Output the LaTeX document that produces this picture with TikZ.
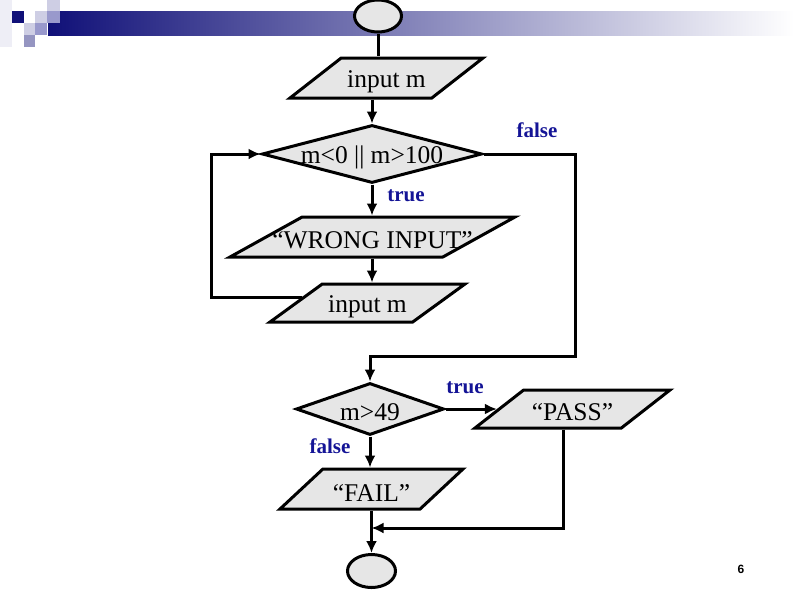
\documentclass[tikz,border=0pt]{standalone}
\usepackage{fontspec}
\setmainfont{Liberation Serif}
\setsansfont{Liberation Sans}
\usetikzlibrary{shapes.geometric,arrows.meta,calc}

\definecolor{boxgray}{RGB}{230,230,230}
\definecolor{labelblue}{RGB}{20,20,150}
\definecolor{navy}{RGB}{16,16,120}
\definecolor{lav}{RGB}{153,153,204}
\definecolor{lavlight}{RGB}{206,206,228}
\definecolor{lavpale}{RGB}{238,238,246}
\definecolor{barmid}{RGB}{178,178,206}

\newcommand{\chartfont}{\fontsize{25.5}{30}\selectfont}

\begin{document}
\begin{tikzpicture}[x=1pt, y=-1pt,
    box/.style={draw, line width=3pt, fill=boxgray, inner sep=0pt},
    term/.style={box, ellipse},
    io/.style 2 args={box, trapezium, trapezium stretches body,
        trapezium left angle=#1, trapezium right angle={\the\numexpr180-#1\relax},
        text height=#2/2, text depth=#2/2},
    decision/.style={box, diamond},
    every label/.style={font=\chartfont, inner sep=0pt, yshift=-3.5pt},
    line/.style={line width=3pt},
    flow/.style={line width=3pt, -{Latex[length=12pt,width=11pt]}},
    tag/.style={font=\fontsize{21}{24}\selectfont\bfseries, text=labelblue, inner sep=0pt}]
    \useasboundingbox (0,0) rectangle (794,595);

    % Slide decoration: squares and title bar
    \fill[lavpale] (0,0) rectangle (12,47);
    \shade[left color=navy, middle color=barmid, right color=white] (48,11) rectangle (794,35);
    \fill[navy] (12,11) rectangle (24,23);
    \fill[lavlight] (47,0) rectangle (60,11);
    \fill[lavlight] (35,11) rectangle (47,23);
    \fill[lav] (47,11) rectangle (60,23);
    \fill[lavlight] (24,23) rectangle (35,35);
    \fill[lav] (35,23) rectangle (47,35);
    \fill[lav!85!gray] (24,35) rectangle (35,47);

    % Input loop
    \node[term, minimum width=47pt, minimum height=32pt] (start) at (378,16) {};
    \node[io={38}{40pt}, minimum width=193pt, label=center:input m] (in1) at (386.5,78) {};
    \node[decision, minimum width=220pt, minimum height=58pt, label=center:{m<0 || m>100}] (d1) at (372,154) {};
    \node[io={29}{40pt}, minimum width=285pt, label=center:{“WRONG INPUT”}] (wrong) at (372.5,237) {};
    \node[io={36}{38pt}, minimum width=195pt, label=center:input m] (in2) at (367.5,303) {};

    % Grade check
    \node[decision, minimum width=148pt, minimum height=52pt, label=center:{m>49}] (d2) at (370,409) {};
    \node[io={38}{38pt}, minimum width=195pt, label=center:{“PASS”}] (pass) at (572.5,409) {};
    \node[io={43}{40pt}, minimum width=183pt, label=center:{“FAIL”}] (fail) at (371.5,489) {};
    \node[term, minimum width=48pt, minimum height=33pt] (end) at (371.5,571) {};

    % Branch labels
    \node[tag] (f1) at (537,130) {false};
    \node[tag] (t1) at (406,196) {true};
    \node[tag] (t2) at (465,388) {true};
    \node[tag] (f2) at (330,446) {false};
    \node[font=\sffamily\bfseries\fontsize{12}{14}\selectfont] (pg) at (741,569) {6};

    \coordinate (lturn) at (211,154);
    \coordinate (rturn) at (575,356);
    \coordinate (merge) at (371.5,528);

    % Connectors
    \draw[line] (start.south) -- (start.south |- in1.north);
    \draw[flow] (in1.south -| d1.north) -- (d1.north);
    \draw[flow] (d1.south) -- (d1.south |- wrong.north);
    \draw[flow] (d1.south |- wrong.south) -- (d1.south |- in2.north);
    \draw[flow] ($(in2.west)+(8,-6)$) -| (lturn) -- (d1.west);
    \draw[flow] (d1.east) -| (rturn) -| (d2.north);
    \draw[flow] (d2.east) -- (pass.west);
    \draw[flow] (d2.south) -- (d2.south |- fail.north);
    \draw[flow] ([xshift=-9.5pt]pass.south) |- (merge);
    \draw[flow] (fail.south) -- (end.north);
\end{tikzpicture}
\end{document}
